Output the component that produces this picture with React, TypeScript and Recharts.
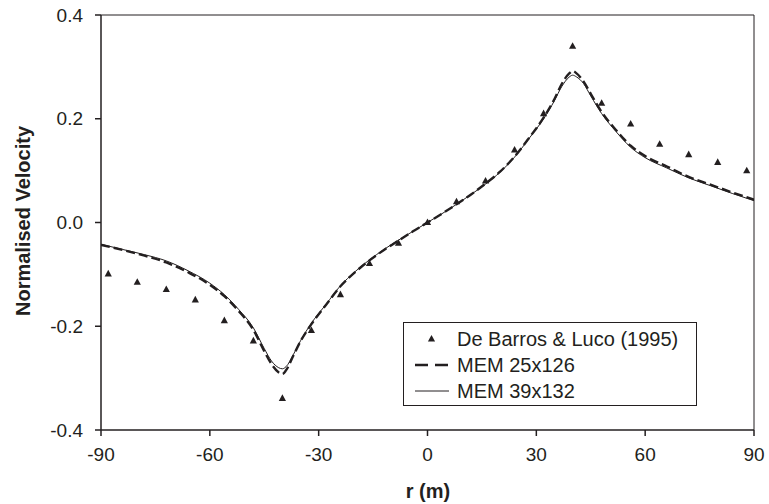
import {
  ComposedChart,
  Line,
  Scatter,
  XAxis,
  YAxis,
  ReferenceLine,
} from "recharts";

const ink = "#231f20";
const font = "'Liberation Sans', Arial, sans-serif";

// De Barros & Luco (1995) points
const barrosR = [-88, -80, -72, -64, -56, -48, -40, -32, -24, -16, -8, 0, 8, 16, 24, 32, 40, 48, 56, 64, 72, 80, 88];
const barrosV = [-0.099, -0.115, -0.129, -0.149, -0.189, -0.228, -0.339, -0.208, -0.139, -0.079, -0.04, 0.0, 0.04, 0.08, 0.14, 0.21, 0.34, 0.23, 0.19, 0.151, 0.131, 0.116, 0.1];

// MEM curves (shared r grid)
const memR = [-90, -84, -78, -72, -66, -60, -56, -52, -48, -45, -43, -41, -40, -39, -37, -35, -32, -28, -24, -20, -16, -12, -8, -4, 0, 4, 8, 12, 16, 20, 24, 28, 32, 35, 37, 39, 40, 41, 43, 45, 48, 52, 56, 60, 66, 72, 78, 84, 90];
const mem25V = [-0.043, -0.053, -0.064, -0.077, -0.096, -0.12, -0.142, -0.171, -0.207, -0.248, -0.273, -0.289, -0.292, -0.285, -0.257, -0.229, -0.196, -0.159, -0.123, -0.096, -0.073, -0.053, -0.035, -0.017, 0.0, 0.017, 0.035, 0.054, 0.075, 0.098, 0.127, 0.163, 0.202, 0.238, 0.267, 0.287, 0.292, 0.288, 0.272, 0.248, 0.213, 0.178, 0.148, 0.128, 0.108, 0.088, 0.073, 0.058, 0.044];
const mem39V = [-0.042, -0.052, -0.062, -0.074, -0.093, -0.117, -0.139, -0.168, -0.203, -0.243, -0.267, -0.28, -0.282, -0.278, -0.255, -0.228, -0.194, -0.158, -0.122, -0.095, -0.072, -0.052, -0.034, -0.017, 0.0, 0.017, 0.035, 0.054, 0.074, 0.097, 0.126, 0.162, 0.2, 0.235, 0.262, 0.28, 0.284, 0.281, 0.268, 0.244, 0.21, 0.175, 0.145, 0.125, 0.105, 0.086, 0.071, 0.056, 0.042];

const xTicks = [-90, -60, -30, 0, 30, 60, 90];
const yTicks = [-0.4, -0.2, 0.0, 0.2, 0.4];

const barros = barrosR.map((r, i) => ({ r, v: barrosV[i] }));
const mem25 = memR.map((r, i) => ({ r, v: mem25V[i] }));
const mem39 = memR.map((r, i) => ({ r, v: mem39V[i] }));

const Triangle = (props: any) => {
  const { cx, cy } = props;
  return (
    <polygon
      points={`${cx},${cy - 4} ${cx - 3.6},${cy + 2.6} ${cx + 3.6},${cy + 2.6}`}
      fill={ink}
    />
  );
};

const YLabel = () => (
  <text
    x={23}
    y={221}
    transform="rotate(-90 23 221)"
    textAnchor="middle"
    dominantBaseline="central"
    fontFamily={font}
    fontSize={20}
    fontWeight="bold"
    fill={ink}
  >
    Normalised Velocity
  </text>
);

const XLabel = () => (
  <text
    x={428}
    y={491}
    textAnchor="middle"
    dominantBaseline="central"
    fontFamily={font}
    fontSize={20}
    fontWeight="bold"
    fill={ink}
  >
    r (m)
  </text>
);

const legendItems = [
  { name: "De Barros & Luco (1995)", kind: "tri" },
  { name: "MEM 25x126", kind: "dash" },
  { name: "MEM 39x132", kind: "solid" },
];

const LegendBox = () => (
  <div
    style={{
      position: "absolute",
      left: 403,
      top: 322,
      border: `1px solid ${ink}`,
      background: "#fff",
      width: 292,
      height: 82,
      fontFamily: font,
      fontSize: 20,
      color: ink,
    }}
  >
    {legendItems.map((it, i) => (
      <div
        key={i}
        style={{ display: "flex", alignItems: "center", height: 26, marginTop: i === 0 ? 3 : 0 }}
      >
        <svg width={53} height={20} style={{ flex: "none" }}>
          {it.kind === "tri" && (
            <polygon points="27.5,6 23.9,12.6 31.1,12.6" fill={ink} />
          )}
          {it.kind === "dash" && (
            <line x1={11} y1={10} x2={45} y2={10} stroke={ink} strokeWidth={2.5} strokeDasharray="13 7" />
          )}
          {it.kind === "solid" && (
            <line x1={11} y1={10} x2={45} y2={10} stroke={ink} strokeWidth={1} />
          )}
        </svg>
        <span style={{ lineHeight: "20px", whiteSpace: "nowrap" }}>{it.name}</span>
      </div>
    ))}
  </div>
);

export default function App() {
  return (
    <div style={{ position: "absolute", left: 0, top: 0, width: 769, height: 504, background: "#fff" }}>
      <ComposedChart width={769} height={504} margin={{ top: 15, right: 15, bottom: 0, left: 0 }}>
        <XAxis
          type="number"
          dataKey="r"
          domain={[-90, 90]}
          ticks={xTicks}
          allowDataOverflow
          height={74}
          stroke={ink}
          strokeWidth={1.5}
          tickSize={6}
          tickMargin={12}
          tick={{ fill: ink, fontSize: 19, fontFamily: font }}
          label={<XLabel />}
        />
        <YAxis
          type="number"
          dataKey="v"
          domain={[-0.4, 0.4]}
          ticks={yTicks}
          allowDataOverflow
          width={101}
          stroke={ink}
          strokeWidth={1.5}
          tickSize={6}
          tickMargin={12}
          tickFormatter={(v: number) => v.toFixed(1)}
          tick={{ fill: ink, fontSize: 19, fontFamily: font }}
          label={<YLabel />}
        />
        <ReferenceLine y={0.4} stroke={ink} strokeWidth={1} ifOverflow="visible" />
        <ReferenceLine x={90} stroke={ink} strokeWidth={1} ifOverflow="visible" />
        <Line
          data={mem25}
          dataKey="v"
          name="MEM 25x126"
          type="monotone"
          stroke={ink}
          strokeWidth={2.4}
          strokeDasharray="9 4"
          dot={false}
          isAnimationActive={false}
        />
        <Line
          data={mem39}
          dataKey="v"
          name="MEM 39x132"
          type="monotone"
          stroke={ink}
          strokeWidth={1}
          dot={false}
          isAnimationActive={false}
        />
        <Scatter
          data={barros}
          dataKey="v"
          name="De Barros & Luco (1995)"
          shape={<Triangle />}
          isAnimationActive={false}
        />
      </ComposedChart>
      <LegendBox />
    </div>
  );
}
